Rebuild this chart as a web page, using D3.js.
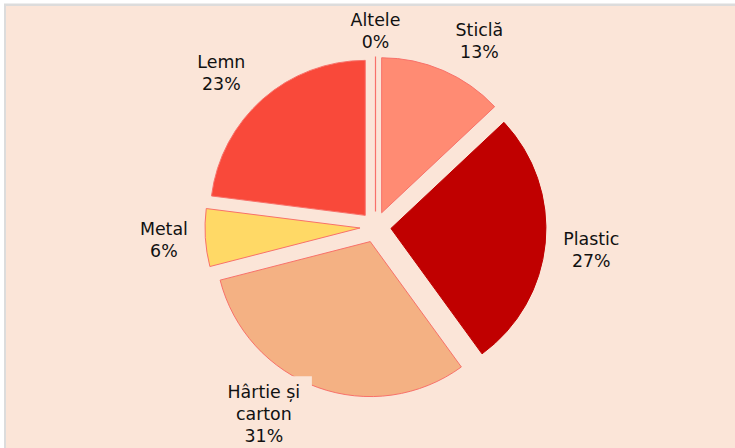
<!DOCTYPE html>
<html>
<head>
<meta charset="utf-8">
<script src="https://cdn.jsdelivr.net/npm/d3@7/dist/d3.min.js"></script>
<style>
  html, body { margin: 0; padding: 0; background: #ffffff; }
  svg { display: block; }
  text { font-family: "DejaVu Sans", Verdana, sans-serif; }
</style>
</head>
<body>
<script>
// Waste composition by material (percent)
const categories = ["Sticlă", "Plastic", "Hârtie și carton", "Metal", "Lemn", "Altele"];
const labelLines = [["Sticlă"], ["Plastic"], ["Hârtie și", "carton"], ["Metal"], ["Lemn"], ["Altele"]];
const values = [13, 27, 31, 6, 23, 0];
const colors = ["#FF8B73", "#C00000", "#F4B183", "#FFD966", "#F9493A", "#F9493A"];

const W = 735, H = 448;
const cx = 375.5, cy = 227, R = 155, explode = 15.5;

const svg = d3.select("body").append("svg")
  .attr("width", W).attr("height", H);

// frame
svg.append("rect").attr("x", 0).attr("y", 0).attr("width", W).attr("height", H).attr("fill", "#ffffff");
svg.append("rect").attr("x", 4).attr("y", 3.5).attr("width", W - 4).attr("height", H - 3.5).attr("fill", "#DCDCDC");
svg.append("rect").attr("x", 6).attr("y", 6).attr("width", W - 6).attr("height", H - 6).attr("fill", "#FBE5D8");

const pie = d3.pie().sort(null).value(d => d).startAngle(0).endAngle(2 * Math.PI);
const arcs = pie(values);
const arc = d3.arc().innerRadius(0).outerRadius(R);

const g = svg.append("g").attr("transform", `translate(${cx},${cy})`);

g.selectAll("path.slice")
  .data(arcs)
  .join("path")
  .attr("class", "slice")
  .attr("transform", d => {
    const m = (d.startAngle + d.endAngle) / 2;
    return `translate(${explode * Math.sin(m)},${-explode * Math.cos(m)})`;
  })
  .attr("d", arc)
  .attr("fill", (d, i) => colors[i])
  .attr("stroke", (d, i) => i === 1 ? "#C00000" : "#F8716A")
  .attr("stroke-width", (d, i) => i === 5 ? 1.2 : 1)
  .attr("stroke-linejoin", "miter");

// label placement: polar anchor around the pie, per-label angular/radial tweaks
const labelTweak = [
  { da: 5.8, r: 213 },   // Sticlă
  { da: 0.6, r: 217 },   // Plastic
  { da: 11.0, r: 218 },  // Hârtie și carton
  { da: 0.1, r: 212 },   // Metal
  { da: -3.6, r: 218 },  // Lemn
  { da: 0, r: 196 }      // Altele
];
const lineH = 22;

const labels = svg.append("g");
arcs.forEach((d, i) => {
  const m = (d.startAngle + d.endAngle) / 2 + labelTweak[i].da * Math.PI / 180;
  const lx = cx + labelTweak[i].r * Math.sin(m);
  const ly = cy - labelTweak[i].r * Math.cos(m);
  const lines = labelLines[i].concat([d3.format(".0%")(values[i] / 100)]);
  const n = lines.length;
  // baseline of first line so the block is vertically centred on the anchor
  const y0 = ly - (n - 1) * lineH / 2 + 6;
  if (i === 2) {
    labels.append("rect")
      .attr("x", lx - 50).attr("y", y0 - 22)
      .attr("width", 98).attr("height", n * lineH + 20)
      .attr("fill", "#FBE5D8");
  }
  const t = labels.append("text")
    .attr("text-anchor", "middle")
    .attr("font-size", 17.4)
    .attr("fill", "#111111");
  lines.forEach((s, k) => {
    t.append("tspan").attr("x", lx).attr("y", y0 + k * lineH).text(s);
  });
});
</script>
</body>
</html>
